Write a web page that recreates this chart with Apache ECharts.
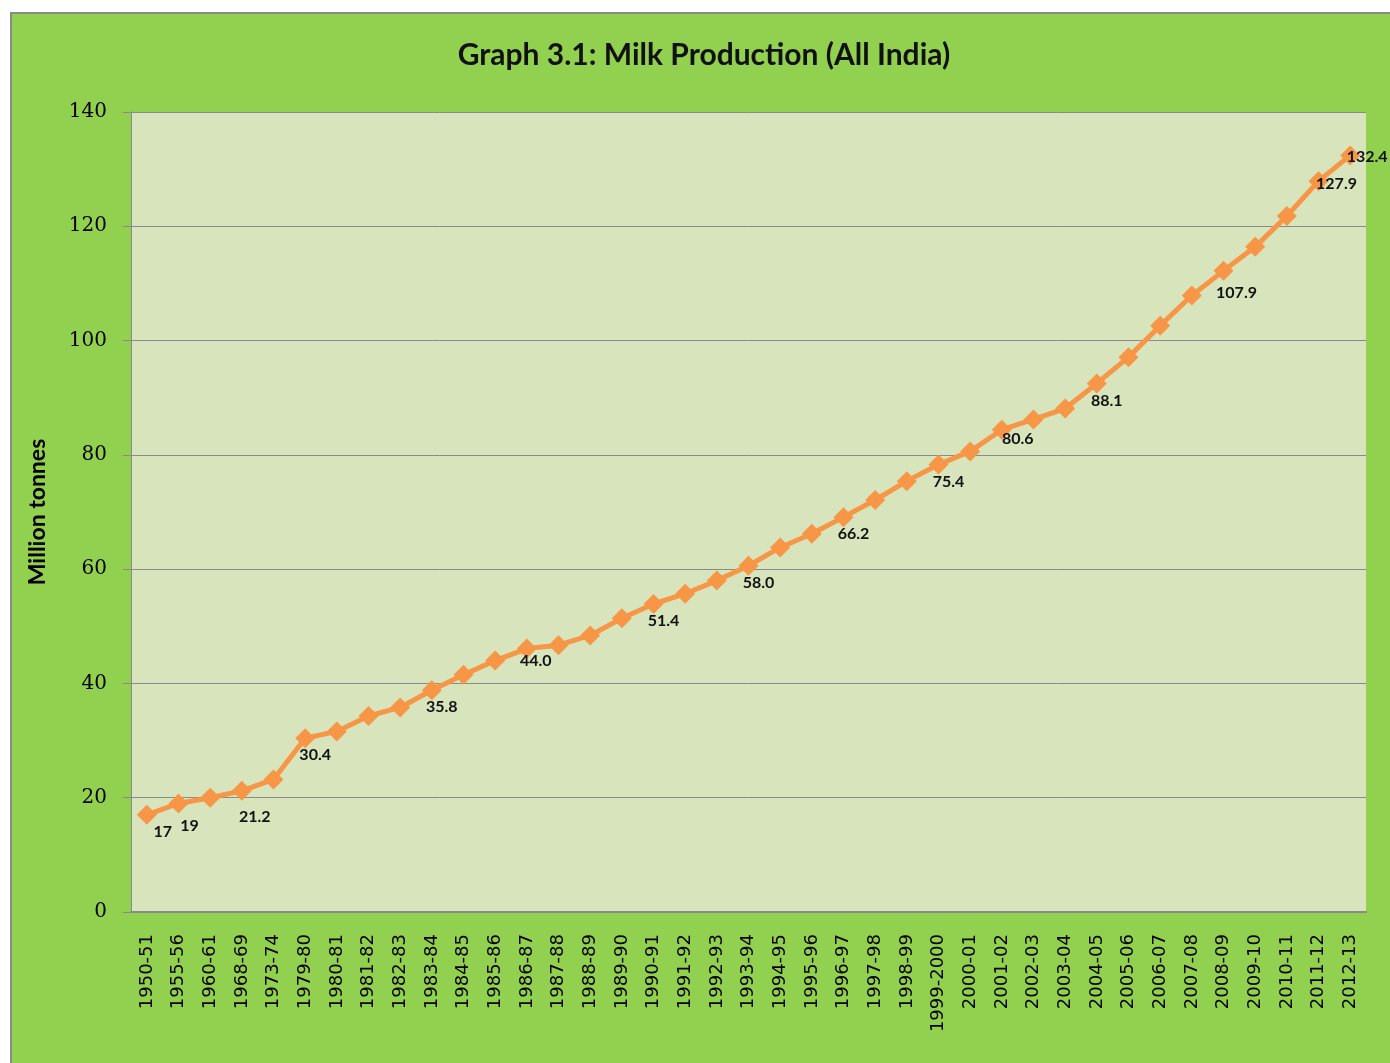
<!DOCTYPE html>
<html>
<head>
<meta charset="utf-8">
<script src="https://cdn.jsdelivr.net/npm/echarts@6/dist/echarts.min.js"></script>
<style>
html, body { margin: 0; padding: 0; background: #fff; overflow: hidden; width: 1390px; height: 1063px; }
#chart { position: absolute; left: 10px; top: 12px; width: 1400px; height: 1070px; border: 2px solid #8a8a8a; background: #92d050; }
</style>
</head>
<body>
<div id="chart"></div>
<script>
// categories (years)
var years = ['1950-51', '1955-56', '1960-61', '1968-69', '1973-74', '1979-80', '1980-81', '1981-82',
    '1982-83', '1983-84', '1984-85', '1985-86', '1986-87', '1987-88', '1988-89', '1989-90', '1990-91',
    '1991-92', '1992-93', '1993-94', '1994-95', '1995-96', '1996-97', '1997-98', '1998-99', '1999-2000',
    '2000-01', '2001-02', '2002-03', '2003-04', '2004-05', '2005-06', '2006-07', '2007-08', '2008-09',
    '2009-10', '2010-11', '2011-12', '2012-13'];
// milk production, million tonnes
var milk = [17.0, 19.0, 20.0, 21.2, 23.2, 30.4, 31.6, 34.3, 35.8, 38.8, 41.5, 44.0, 46.1, 46.7, 48.4,
    51.4, 53.9, 55.7, 58.0, 60.6, 63.8, 66.2, 69.1, 72.1, 75.4, 78.3, 80.6, 84.4, 86.2, 88.1, 92.5,
    97.1, 102.6, 107.9, 112.2, 116.4, 121.8, 127.9, 132.4];
// data labels as they show on the picture
var labelText = ['17', '19', '', '21.2', '', '30.4', '', '', '', '35.8', '', '', '44.0', '', '', '',
    '51.4', '', '', '58.0', '', '', '66.2', '', '', '75.4', '', '80.6', '', '', '88.1', '', '', '',
    '107.9', '', '', '127.9', '132.4'];
var yTicks = { min: 0, max: 140, step: 20 };

// label nudges (px) where the picture differs from the usual below-right spot
var nudge = { 0: [16, 17], 1: [11, 22], 3: [13, 26], 12: [9, 12], 27: [16, 9], 34: [13, 22], 37: [18, 3], 38: [17, 1] };

var seriesData = milk.map(function (v, i) {
    var txt = labelText[i];
    if (!txt) return { value: v, label: { show: false } };
    return {
        value: v,
        label: { show: true, position: 'inside', offset: nudge[i] || [10, 17], formatter: txt }
    };
});

var myChart = echarts.init(document.getElementById('chart'));

var option = {
    animation: false,
    title: {
        text: 'Graph 3.1: Milk Production (All India)',
        left: 687,
        top: 21,
        textAlign: 'center',
        textStyle: {
            fontFamily: 'Lato',
            fontWeight: 'bold',
            fontSize: 30,
            color: '#111'
        }
    },
    grid: {
        left: 119,
        top: 98,
        width: 1235,
        height: 800,
        show: true,
        backgroundColor: '#d8e4bc',
        borderWidth: 0
    },
    xAxis: {
        type: 'category',
        data: years,
        boundaryGap: true,
        axisLine: { lineStyle: { color: '#8a8a8a', width: 2 } },
        axisTick: { show: false },
        axisLabel: {
            rotate: 90,
            interval: 0,
            margin: 22,
            fontFamily: 'DejaVu Sans',
            fontSize: 18,
            color: '#000'
        },
        splitLine: { show: false }
    },
    yAxis: {
        type: 'value',
        min: yTicks.min,
        max: yTicks.max,
        interval: yTicks.step,
        name: 'Million tonnes',
        nameLocation: 'middle',
        nameRotate: 90,
        nameGap: 82,
        nameTextStyle: {
            fontFamily: 'Lato',
            fontWeight: 'bold',
            fontSize: 23,
            color: '#000'
        },
        axisLine: { show: true, lineStyle: { color: '#8a8a8a', width: 1 } },
        axisTick: { show: true, length: 8, lineStyle: { color: '#8a8a8a' } },
        axisLabel: {
            margin: 24,
            fontFamily: 'DejaVu Serif',
            fontSize: 20,
            color: '#000'
        },
        splitLine: { lineStyle: { color: '#8a8a8a', width: 1 } }
    },
    series: [{
        name: 'Milk',
        type: 'line',
        data: seriesData,
        symbol: 'diamond',
        symbolSize: 20,
        lineStyle: { color: '#f79646', width: 5 },
        itemStyle: { color: '#f79646' },
        label: {
            fontFamily: 'Lato',
            fontWeight: 'bold',
            fontSize: 16,
            color: '#111'
        }
    }]
};

myChart.setOption(option);
</script>
</body>
</html>
